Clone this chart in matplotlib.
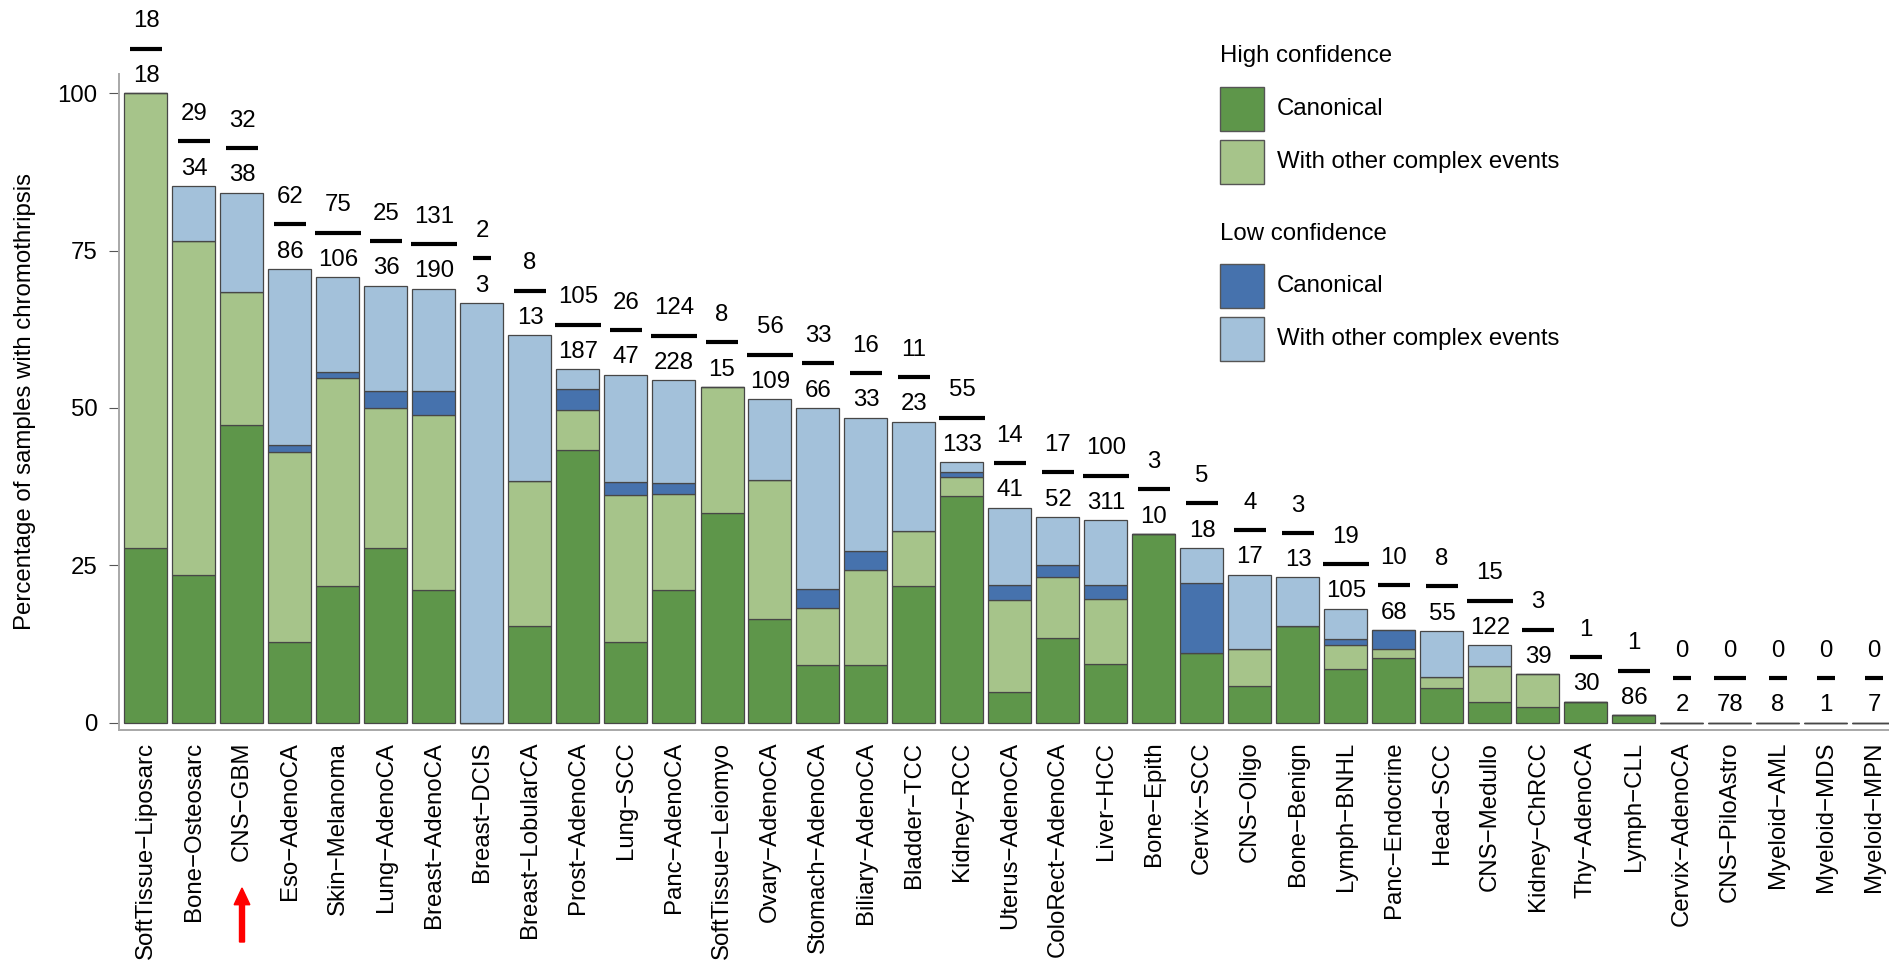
import matplotlib
matplotlib.use("Agg")
import matplotlib.pyplot as plt
from matplotlib.patches import Rectangle, FancyArrow
from matplotlib.transforms import IdentityTransform
import numpy as np

plt.rcParams['font.family'] = ['Liberation Sans', 'DejaVu Sans']

# Tumour types, ordered by overall chromothripsis frequency
categories = [
    "SoftTissue−Liposarc", "Bone−Osteosarc", "CNS−GBM", "Eso−AdenoCA",
    "Skin−Melanoma", "Lung−AdenoCA", "Breast−AdenoCA", "Breast−DCIS",
    "Breast−LobularCA", "Prost−AdenoCA", "Lung−SCC", "Panc−AdenoCA",
    "SoftTissue−Leiomyo", "Ovary−AdenoCA", "Stomach−AdenoCA",
    "Biliary−AdenoCA", "Bladder−TCC", "Kidney−RCC", "Uterus−AdenoCA",
    "ColoRect−AdenoCA", "Liver−HCC", "Bone−Epith", "Cervix−SCC",
    "CNS−Oligo", "Bone−Benign", "Lymph−BNHL", "Panc−Endocrine", "Head−SCC",
    "CNS−Medullo", "Kidney−ChRCC", "Thy−AdenoCA", "Lymph−CLL",
    "Cervix−AdenoCA", "CNS−PiloAstro", "Myeloid−AML", "Myeloid−MDS",
    "Myeloid−MPN",
]

# Number of samples per tumour type
n_samples = [18, 34, 38, 86, 106, 36, 190, 3, 13, 187, 47, 228, 15, 109, 66,
             33, 23, 133, 41, 52, 311, 10, 18, 17, 13, 105, 68, 55, 122, 39,
             30, 86, 2, 78, 8, 1, 7]

# Sample counts per chromothripsis class
hc_canonical = [5, 8, 18, 11, 23, 10, 40, 0, 2, 81, 6, 48, 5, 18, 6, 3, 5, 48,
                2, 7, 29, 3, 2, 1, 2, 9, 7, 3, 4, 1, 1, 1, 0, 0, 0, 0, 0]
hc_other = [13, 18, 8, 26, 35, 8, 53, 0, 3, 12, 11, 35, 3, 24, 6, 5, 2, 4, 6,
            5, 32, 0, 0, 1, 0, 4, 1, 1, 7, 2, 0, 0, 0, 0, 0, 0, 0]
lc_canonical = [0, 0, 0, 1, 1, 1, 7, 0, 0, 6, 1, 4, 0, 0, 2, 1, 0, 1, 1, 1, 7,
                0, 2, 0, 0, 1, 2, 0, 0, 0, 0, 0, 0, 0, 0, 0, 0]
lc_other = [0, 3, 6, 24, 16, 6, 31, 2, 3, 6, 8, 37, 0, 14, 19, 7, 4, 2, 5, 4,
            32, 0, 1, 2, 1, 5, 0, 4, 4, 0, 0, 0, 0, 0, 0, 0, 0]

highlight = "CNS−GBM"

colors = {
    "hc_can": "#5E964A",
    "hc_oth": "#A6C48A",
    "lc_can": "#4672AD",
    "lc_oth": "#A3C1DA",
}
edge = "#474747"
FS = 17.3

W, H = 1890, 971
fig = plt.figure(figsize=(W / 100, H / 100), dpi=100)
ax = fig.add_axes([119 / W, (H - 730) / H, (W - 119) / W, 730 / H])

n = np.array(n_samples, dtype=float)
layers = [
    (np.array(hc_canonical), colors["hc_can"]),
    (np.array(hc_other), colors["hc_oth"]),
    (np.array(lc_canonical), colors["lc_can"]),
    (np.array(lc_other), colors["lc_oth"]),
]
x = np.arange(len(categories))
bar_w = 43 / 48

bottom = np.zeros(len(categories))
for counts, col in layers:
    pct = counts / n * 100
    ax.bar(x, pct, bottom=bottom, width=bar_w, color=col, edgecolor=edge,
           linewidth=0.9, zorder=2)
    bottom = bottom + pct

# Fraction labels above each bar: affected / total
affected = sum(np.array(c) for c, _ in layers)
totals = affected / n * 100
for i in range(len(categories)):
    yline = totals[i] + 7.1
    num, den = str(int(affected[i])), str(int(n_samples[i]))
    nd = max(len(num), len(den))
    half = (14.2 * nd + 4) / 48 / 2
    ax.plot([i - half, i + half], [yline, yline], color="black", lw=3.0,
            solid_capstyle="butt", clip_on=False, zorder=3)
    ax.annotate(num, xy=(i, yline), xytext=(0, 15.3), textcoords="offset points",
                ha="center", va="baseline", fontsize=FS, annotation_clip=False)
    ax.annotate(den, xy=(i, yline), xytext=(0, -24.0), textcoords="offset points",
                ha="center", va="baseline", fontsize=FS, annotation_clip=False)

ax.set_xlim((119 - 146) / 48, (W - 146) / 48)
ax.set_ylim(-7.3 / 6.294, 722.7 / 6.294)

for s in ("top", "right"):
    ax.spines[s].set_visible(False)
ax.spines["left"].set_bounds(-7.3 / 6.294, (722.7 - 74) / 6.294)
for s in ("left", "bottom"):
    ax.spines[s].set_color("#A8A8A8")
    ax.spines[s].set_linewidth(1.4)

ax.set_yticks([0, 25, 50, 75, 100])
ax.tick_params(axis="y", length=7.5, width=0.8, color="#555555", pad=8,
               labelsize=FS)
ax.set_xticks(x)
ax.set_xticklabels(categories, rotation=90, ha="center", va="top")
ax.tick_params(axis="x", length=0, pad=8.4, labelsize=FS)

fig.text(25 / W, 1 - 401 / H, "Percentage of samples with chromothripsis",
         rotation=90, ha="center", va="center", fontsize=FS)

# Upward arrow under the highlighted tumour type
fig.canvas.draw()
ix = categories.index(highlight)
ax_px = ax.transData.transform((ix, 0))[0]
fig.add_artist(FancyArrow(ax_px, H - 942, 0, 54, width=5, head_width=15.7,
                          head_length=16.7, length_includes_head=True,
                          color="#FF0000", transform=IdentityTransform()))

# Legend
def fig_rect(x0, y0, w, h, fc):
    fig.add_artist(Rectangle((x0 / W, 1 - (y0 + h) / H), w / W, h / H,
                             facecolor=fc, edgecolor="#555555", linewidth=1.0,
                             transform=fig.transFigure))

legend_groups = [
    ("High confidence", 56, [("Canonical", colors["hc_can"], 87),
                             ("With other complex events", colors["hc_oth"], 140)]),
    ("Low confidence", 234, [("Canonical", colors["lc_can"], 264),
                             ("With other complex events", colors["lc_oth"], 317)]),
]
for title, ty, entries in legend_groups:
    fig.text(1220 / W, 1 - ty / H, title, ha="left", va="center", fontsize=FS)
    for label, col, top in entries:
        fig_rect(1220, top, 44.5, 44.5, col)
        fig.text(1277 / W, 1 - (top + 22) / H, label, ha="left", va="center",
                 fontsize=FS)

fig.savefig("out.png", dpi=100)
